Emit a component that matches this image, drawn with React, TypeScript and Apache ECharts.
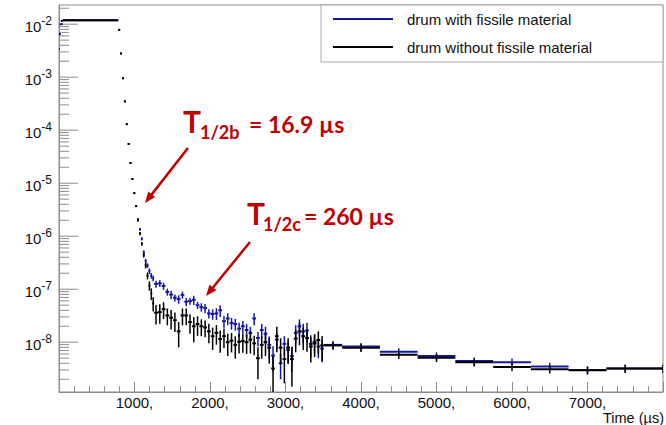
import React, { useEffect, useRef } from 'react';
import * as echarts from 'echarts';

// ---- data ----
const seriesNames = ['drum with fissile material', 'drum without fissile material'];

// histogram bin edges in µs (shared by both series)
const binEdges = [
  0, 12, 25, 50, 785,
  810, 835, 860, 885, 910, 935, 960, 985, 1010, 1035, 1060, 1085, 1110, 1135, 1160, 1185, 1210, 1235, 1260,
  1310, 1360, 1410, 1460, 1510, 1560, 1610, 1660, 1710, 1760, 1810, 1860, 1910, 1960, 2010, 2060, 2110, 2160,
  2210, 2260, 2310, 2360, 2410, 2460, 2510, 2560, 2610, 2660, 2710, 2760, 2810, 2860, 2910, 2960, 3010, 3060,
  3110, 3160, 3210, 3260, 3310, 3360, 3410, 3460, 3510,
  3750, 4250, 4750, 5250, 5750, 6250, 6750, 7250, 7750, 8250,
];

const blueValues = [
  3.4e-3, 6.5e-3, 1.0e-2, 1.19e-2,
  7.8e-3, 2.8e-3, 9.5e-4, 3.5e-4, 1.3e-4, 5.5e-5, 2.4e-5, 1.2e-5, 6.5e-6, 3.7e-6, 2.1e-6, 1.35e-6, 8.9e-7, 5.0e-7,
  3.4e-7, 2.8e-7, 2.2e-7, 1.8e-7, 1.6e-7,
  1.26e-7, 1.29e-7, 1.15e-7, 8.9e-8, 7.9e-8, 6.9e-8, 6.5e-8, 7.8e-8, 5.8e-8, 6.0e-8,
  6.3e-8, 5.0e-8, 4.6e-8, 4.4e-8, 3.5e-8, 3.4e-8, 3.5e-8, 4.0e-8, 2.5e-8, 2.8e-8,
  2.3e-8, 2.2e-8, 1.8e-8, 2.0e-8, 1.7e-8, 1.5e-8, 2.8e-8, 1.2e-8, 1.7e-8, 1.45e-8,
  8.9e-9, 5.6e-9, 1.12e-8, 4.0e-9, 9.3e-9, 7.1e-9, 5.5e-9, 1.5e-8, 2.0e-8, 1.6e-8,
  1.66e-8, 9.3e-9, 1.02e-8, 8.3e-9, 7.6e-9,
  8.9e-9, 8.3e-9, 6.6e-9, 5.5e-9, 4.4e-9, 4.2e-9, 3.5e-9, 3.0e-9, 3.2e-9, 3.2e-9,
];

const blackValues = [
  6.5e-3, 1.0e-2, 1.15e-2, 1.19e-2,
  7.8e-3, 2.8e-3, 9.5e-4, 3.5e-4, 1.3e-4, 5.5e-5, 2.4e-5, 1.2e-5, 6.5e-6, 3.7e-6, 2.0e-6, 1.12e-6, 7.2e-7, 4.4e-7,
  2.8e-7, 1.8e-7, 1.17e-7, 8.3e-8, 5.4e-8,
  3.6e-8, 3.7e-8, 4.2e-8, 3.2e-8, 2.9e-8, 2.6e-8, 1.6e-8, 3.2e-8, 3.2e-8, 2.4e-8,
  2.0e-8, 2.2e-8, 2.0e-8, 1.9e-8, 1.6e-8, 1.3e-8, 1.5e-8, 1.15e-8, 1.3e-8, 1.0e-8,
  1.07e-8, 8.9e-9, 1.02e-8, 1.05e-8, 1.0e-8, 1.12e-8, 9.5e-9, 5.0e-9, 8.9e-9, 1.0e-8,
  7.9e-9, 3.2e-9, 1.3e-8, 7.9e-9, 4.8e-9, 7.9e-9, 4.8e-9, 1.17e-8, 1.6e-8, 1.3e-8,
  1.2e-8, 8.3e-9, 9.5e-9, 1.1e-8, 8.7e-9,
  8.7e-9, 7.9e-9, 5.8e-9, 5.1e-9, 4.2e-9, 3.4e-9, 3.1e-9, 2.95e-9, 3.2e-9, 3.2e-9,
];

// relative statistical errors per bin
const blueErr = [
  0, 0, 0, 0,
  0.02, 0.02, 0.02, 0.02, 0.02, 0.02, 0.02, 0.02, 0.02, 0.02, 0.05, 0.06, 0.07, 0.08, 0.1, 0.1, 0.12, 0.12, 0.12,
  0.15, 0.15, 0.15, 0.15, 0.18, 0.15, 0.18, 0.15, 0.18, 0.15, 0.2, 0.15, 0.18, 0.2, 0.2,
  0.22, 0.25, 0.25, 0.25, 0.25, 0.25, 0.25, 0.3, 0.25, 0.3, 0.3, 0.25, 0.3, 0.3,
  0.35, 0.45, 0.5, 0.35, 0.5, 0.4, 0.45, 0.5, 0.4, 0.35, 0.4, 0.4, 0.45, 0.4, 0.4, 0.45,
  0.17, 0.17, 0.17, 0.17, 0.17, 0.17, 0.17, 0.17, 0.17, 0.17,
];

const blackErr = [
  0, 0, 0, 0,
  0.02, 0.02, 0.02, 0.02, 0.02, 0.02, 0.02, 0.02, 0.02, 0.02, 0.05, 0.07, 0.08, 0.1, 0.12, 0.15, 0.2, 0.25, 0.3,
  0.4, 0.4, 0.35, 0.35, 0.4, 0.4, 0.5, 0.35, 0.35, 0.4, 0.5, 0.4, 0.35, 0.35, 0.4,
  0.45, 0.4, 0.45, 0.4, 0.45, 0.4, 0.45, 0.4, 0.4, 0.4, 0.45, 0.4, 0.6, 0.45,
  0.45, 0.5, 0.7, 0.5, 0.5, 0.65, 0.5, 0.7, 0.45, 0.45, 0.45, 0.45, 0.5, 0.45, 0.45, 0.5,
  0.17, 0.17, 0.17, 0.17, 0.17, 0.17, 0.17, 0.17, 0.17, 0.17,
];

const xTickLabels = [1000, 2000, 3000, 4000, 5000, 6000, 7000];

const annotations = [
  { main: 'T', sub: '1/2b', rest: '= 16.9 µs' },
  { main: 'T', sub: '1/2c', rest: '= 260 µs' },
];

// ---- style constants ----
const Y_MIN = 1.15e-9;
const Y_MAX = 0.023;
const X_MIN = 0;
const X_MAX = 8000;
const BLUE = '#1616a6';
const BLACK = '#000000';
const RED = '#c00000';
const GREY = '#8c8c8c';
const FONT = 'Liberation Sans, Arial, Helvetica, sans-serif';

function histData(values: number[], errs: number[]) {
  return values.map((v, i) => [binEdges[i], binEdges[i + 1], v, errs[i]]);
}

function makeHistRenderer(color: string) {
  return (params: any, api: any) => {
    const lo = api.value(0);
    const hi = api.value(1);
    const v = api.value(2);
    const e = api.value(3);
    const a = api.coord([lo, v]);
    const b = api.coord([hi, v]);
    const children: any[] = [
      {
        type: 'line',
        shape: { x1: a[0], y1: a[1], x2: b[0], y2: b[1] },
        style: { stroke: color, lineWidth: 2 },
      },
    ];
    if (e > 0) {
      const xc = (lo + hi) / 2;
      const top = api.coord([xc, v * (1 + e)]);
      const bot = api.coord([xc, Math.max(v * (1 - e), Y_MIN)]);
      children.push({
        type: 'line',
        shape: { x1: top[0], y1: top[1], x2: top[0], y2: bot[1] },
        style: { stroke: color, lineWidth: 1.5 },
      });
    }
    return { type: 'group', children };
  };
}

// log-axis tick positions (1..9 × 10^n) inside the visible range
function logTicks() {
  const out: number[][] = [];
  for (let n = -10; n <= -1; n++) {
    for (let k = 1; k <= 9; k++) {
      const v = k * Math.pow(10, n);
      if (v >= Y_MIN && v <= Y_MAX) out.push([X_MIN, v, k === 1 ? 1 : 0]);
    }
  }
  return out;
}

function arrow(x1: number, y1: number, x2: number, y2: number) {
  const dx = x2 - x1;
  const dy = y2 - y1;
  const len = Math.sqrt(dx * dx + dy * dy);
  const ux = dx / len;
  const uy = dy / len;
  const hl = 11;
  const hw = 4.5;
  const bx = x2 - ux * hl;
  const by = y2 - uy * hl;
  return [
    {
      type: 'line',
      z: 100,
      shape: { x1, y1, x2: bx + ux * 1, y2: by + uy * 1 },
      style: { stroke: RED, lineWidth: 2.5 },
    },
    {
      type: 'polygon',
      z: 100,
      shape: {
        points: [
          [x2, y2],
          [bx - uy * hw, by + ux * hw],
          [bx + uy * hw, by - ux * hw],
        ],
      },
      style: { fill: RED },
    },
  ];
}

function annotationText(a: { main: string; sub: string; rest: string }, x: number, base: number, subX: number, restX: number) {
  const ff = 'Lato, "Open Sans", sans-serif';
  return [
    {
      type: 'text',
      z: 100,
      x,
      y: base - 11.6,
      style: { text: a.main, fill: RED, fontFamily: ff, fontWeight: 'bold', fontSize: 30, verticalAlign: 'middle' },
    },
    {
      type: 'text',
      z: 100,
      x: subX,
      y: base + 6 - 7.0,
      style: { text: a.sub, fill: RED, fontFamily: ff, fontWeight: 'bold', fontSize: 18, verticalAlign: 'middle' },
    },
    {
      type: 'text',
      z: 100,
      x: restX,
      y: base - 8.9,
      style: { text: a.rest, fill: RED, fontFamily: ff, fontWeight: 'bold', fontSize: 23, verticalAlign: 'middle' },
    },
  ];
}

export default function App() {
  const ref = useRef<HTMLDivElement>(null);

  useEffect(() => {
    if (!ref.current) return;
    const chart = echarts.init(ref.current, undefined, { renderer: 'svg' });

    const option: any = {
      animation: false,
      backgroundColor: '#ffffff',
      grid: {
        left: 59,
        top: 5,
        right: -23,
        bottom: 33,
        show: true,
        borderColor: GREY,
        borderWidth: 1,
      },
      legend: {
        data: seriesNames,
        orient: 'vertical',
        left: 321,
        top: 5,
        icon: 'rect',
        itemWidth: 60,
        itemHeight: 2,
        itemGap: 12,
        padding: [6, 71, 7, 12],
        backgroundColor: '#ffffff',
        borderColor: '#a8a8a8',
        borderWidth: 1,
        borderRadius: 0,
        selectedMode: false,
        textStyle: { fontFamily: FONT, fontSize: 15, color: '#111', lineHeight: 16, padding: [0, 0, 0, 9] },
      },
      xAxis: {
        type: 'value',
        min: X_MIN,
        max: X_MAX,
        interval: 1000,
        axisLine: { show: true, lineStyle: { color: GREY, width: 1 } },
        axisTick: { show: true, inside: true, length: 10, lineStyle: { color: GREY } },
        minorTick: { show: true, splitNumber: 5, length: 6, lineStyle: { color: GREY } },
        splitLine: { show: false },
        axisLabel: {
          margin: 3,
          fontFamily: FONT,
          fontSize: 15,
          color: '#111',
          formatter: (v: number) => (xTickLabels.indexOf(v) >= 0 ? `${v},` : ''),
        },
      },
      yAxis: {
        type: 'log',
        logBase: 10,
        min: Y_MIN,
        max: Y_MAX,
        axisLine: { show: true, lineStyle: { color: GREY, width: 1 } },
        axisTick: { show: false },
        splitLine: { show: false },
        axisLabel: {
          margin: 7,
          padding: [1, 0, 0, 0],
          color: '#111',
          fontFamily: FONT,
          formatter: (v: number) => {
            const e = Math.log10(v);
            const n = Math.round(e);
            if (Math.abs(e - n) > 1e-6) return '';
            return `{h| }{b|10}{s|${n}}`;
          },
          rich: {
            h: { fontSize: 1, lineHeight: 19 },
            b: { fontSize: 15, lineHeight: 15, verticalAlign: 'bottom', fontFamily: FONT, color: '#111' },
            s: { fontSize: 12, lineHeight: 12, verticalAlign: 'top', fontFamily: FONT, color: '#111' },
          },
        },
      },
      series: [
        {
          name: 'yticks',
          type: 'custom',
          silent: true,
          clip: false,
          encode: { x: 0, y: 1 },
          data: logTicks(),
          renderItem: (params: any, api: any) => {
            const p = api.coord([api.value(0), api.value(1)]);
            const len = api.value(2) === 1 ? 19 : 10;
            return {
              type: 'line',
              shape: { x1: p[0], y1: p[1], x2: p[0] + len, y2: p[1] },
              style: { stroke: GREY, lineWidth: 1 },
            };
          },
        },
        {
          name: seriesNames[0],
          type: 'custom',
          clip: true,
          silent: true,
          itemStyle: { color: BLUE },
          encode: { x: [0, 1], y: 2 },
          data: histData(blueValues, blueErr),
          renderItem: makeHistRenderer(BLUE),
        },
        {
          name: seriesNames[1],
          type: 'custom',
          clip: true,
          silent: true,
          itemStyle: { color: BLACK },
          encode: { x: [0, 1], y: 2 },
          data: histData(blackValues, blackErr),
          renderItem: makeHistRenderer(BLACK),
        },
      ],
      graphic: [
        ...annotationText(annotations[0], 183, 133, 200, 249),
        ...annotationText(annotations[1], 247, 225, 263, 304),
        ...arrow(188, 148, 145, 203),
        ...arrow(250, 242, 206, 296),
        {
          type: 'text',
          z: 100,
          x: 603,
          y: 418,
          style: { text: 'Time (µs)', fill: '#111', fontFamily: FONT, fontSize: 14.5, verticalAlign: 'middle' },
        },
      ],
    };

    chart.setOption(option);
    return () => {
      chart.dispose();
    };
  }, []);

  return (
    <div
      ref={ref}
      style={{ position: 'fixed', left: 0, top: 0, width: 666, height: 425, overflow: 'hidden', background: '#fff' }}
    />
  );
}
